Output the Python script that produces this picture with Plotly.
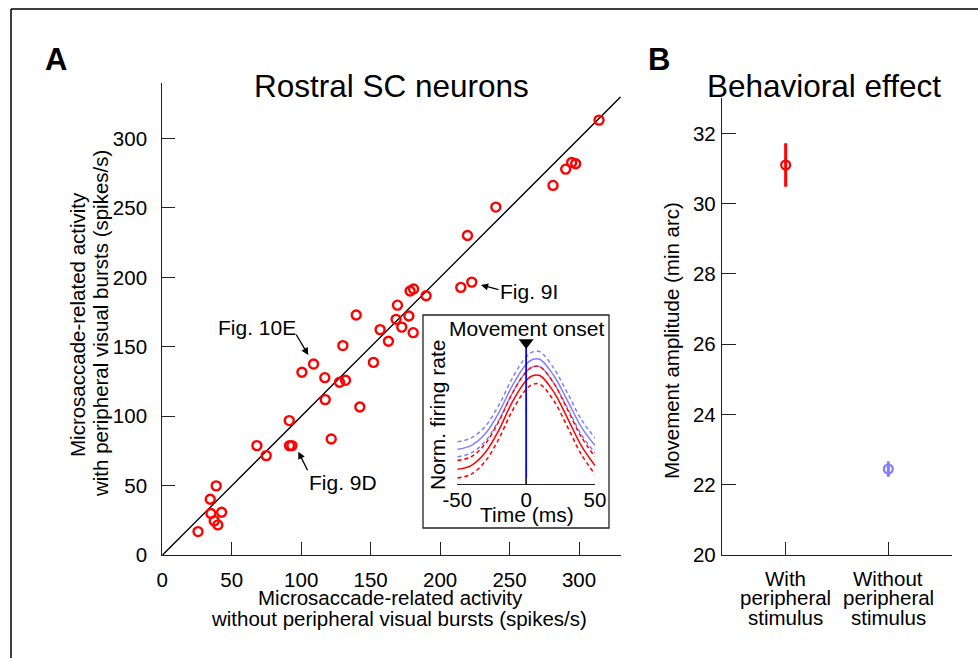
import plotly.graph_objects as go

W, H = 978, 658
FONT = "Liberation Sans, Arial, Helvetica, sans-serif"

# ---------------- Panel A data (spikes/s) ----------------
x_without = [25.7, 34.5, 38.8, 35.0, 37.4, 40.0, 42.7, 68.1, 74.8, 91.4, 91.6, 93.3,
             121.6, 100.5, 108.9, 117.0, 117.3, 127.6, 131.9, 130.0, 139.6, 142.2,
             152.0, 156.8, 162.8, 168.3, 169.3, 172.4, 177.5, 180.6, 178.4, 180.9,
             189.9, 214.9, 222.8, 219.7, 240.1, 281.3, 290.4, 294.7, 297.6, 314.4]
y_with = [17.0, 40.3, 49.9, 30.0, 24.7, 21.8, 30.9, 78.9, 71.7, 96.9, 78.9, 78.9,
          83.7, 131.7, 137.6, 127.8, 112.0, 124.5, 125.9, 150.9, 172.9, 106.7,
          138.8, 162.4, 154.0, 169.8, 180.0, 164.2, 172.2, 160.2, 190.2, 191.6,
          186.8, 192.8, 196.6, 230.2, 250.6, 266.2, 277.9, 282.7, 281.8, 313.2]
unity = [0, 330]
a_ticks = [0, 50, 100, 150, 200, 250, 300]

# ---------------- Inset data (normalized firing rate) ----------------
t_ms = [-50, -40, -30, -20, -10, 0, 5, 10, 20, 30, 40, 50]
red_mean = [0.12, 0.15, 0.25, 0.43, 0.66, 0.83, 0.87, 0.87, 0.74, 0.53, 0.31, 0.15]
red_hi = [0.19, 0.22, 0.32, 0.50, 0.73, 0.90, 0.94, 0.94, 0.81, 0.60, 0.38, 0.22]
red_lo = [0.05, 0.08, 0.18, 0.36, 0.59, 0.76, 0.80, 0.80, 0.67, 0.46, 0.24, 0.08]
blue_mean = [0.28, 0.31, 0.40, 0.57, 0.79, 0.96, 1.00, 1.00, 0.87, 0.67, 0.46, 0.31]
blue_hi = [0.34, 0.37, 0.46, 0.63, 0.85, 1.02, 1.06, 1.06, 0.93, 0.73, 0.52, 0.37]
blue_lo = [0.22, 0.25, 0.34, 0.51, 0.73, 0.90, 0.94, 0.94, 0.81, 0.61, 0.40, 0.25]
inset_ticks = [-50, 0, 50]
inset_ticktext = ["-50", "0", "50"]

# ---------------- Panel B data (min arc) ----------------
b_pos = [1, 2]
b_labels = [["With", "peripheral", "stimulus"], ["Without", "peripheral", "stimulus"]]
b_mean = [31.1, 22.45]
b_err = [0.62, 0.22]
b_ticks = [20, 22, 24, 26, 28, 30, 32]

RED = "#ff0000"
BLUE = "#8080ff"
AX = "#222222"
FS = 20.5


def P(x, y):
    return x / W, 1 - y / H


fig = go.Figure()

# Panel A
fig.add_trace(go.Scatter(x=unity, y=unity, mode="lines",
                         line=dict(color="black", width=1.3),
                         xaxis="x", yaxis="y", hoverinfo="skip"))
fig.add_trace(go.Scatter(x=x_without, y=y_with, mode="markers",
                         marker=dict(symbol="circle-open", size=9, color=RED,
                                     line=dict(color=RED, width=2.4)),
                         xaxis="x", yaxis="y", cliponaxis=False))

# Inset
for ys, col, dash in [(blue_hi, BLUE, "4px,3px"), (blue_lo, BLUE, "4px,3px"),
                      (blue_mean, BLUE, "solid"),
                      (red_hi, RED, "4px,3px"), (red_lo, RED, "4px,3px"),
                      (red_mean, RED, "solid")]:
    fig.add_trace(go.Scatter(x=t_ms, y=ys, mode="lines",
                             line=dict(color=col, width=1.5, dash=dash, shape="spline"),
                             xaxis="x2", yaxis="y2"))
fig.add_trace(go.Scatter(x=[0, 0], y=[0, 1.09], mode="lines",
                         line=dict(color="#0000ff", width=1.8),
                         xaxis="x2", yaxis="y2"))
fig.add_trace(go.Scatter(x=[0], y=[1.135], mode="markers",
                         marker=dict(symbol="triangle-down", size=13, color="black"),
                         xaxis="x2", yaxis="y2", cliponaxis=False))

# Panel B
for i, col in enumerate([RED, BLUE]):
    fig.add_trace(go.Scatter(x=[b_pos[i]], y=[b_mean[i]], mode="markers",
                             marker=dict(symbol="circle-open", size=9, color=col,
                                         line=dict(color=col, width=2.2)),
                             error_y=dict(type="data", array=[b_err[i]], width=0,
                                          thickness=3, color=col),
                             xaxis="x3", yaxis="y3", cliponaxis=False))

tickfont = dict(family=FONT, size=FS, color="black")
common = dict(showline=True, linecolor=AX, linewidth=1.3, ticks="inside",
              tickwidth=1.3, tickcolor=AX, showgrid=False, zeroline=False,
              automargin=False, tickfont=tickfont)

fig.update_layout(
    width=W, height=H, margin=dict(l=0, r=0, t=0, b=0, autoexpand=False),
    paper_bgcolor="white", plot_bgcolor="rgba(0,0,0,0)",
    showlegend=False, font=dict(family=FONT, size=FS, color="black"),
    xaxis=dict(domain=[162.3 / W, 620.7 / W], range=[0, 330], tickvals=a_ticks,
               ticklen=13, ticklabelstandoff=6, anchor="y", **common),
    yaxis=dict(domain=[1 - 555.2 / H, 1 - 82.9 / H], range=[0, 340], tickvals=a_ticks,
               ticklen=13, ticklabelstandoff=10, anchor="x", **common),
    xaxis2=dict(domain=[457.3 / W, 595 / W], range=[-50, 50], tickvals=inset_ticks,
                ticktext=inset_ticktext, ticklen=7, ticklabelstandoff=-3,
                anchor="y2", **common),
    yaxis2=dict(domain=[1 - 484.3 / H, 1 - 334.3 / H], range=[0, 1.2],
                visible=False, anchor="x2", automargin=False),
    xaxis3=dict(domain=[722 / W, 952 / W], range=[0.38, 2.62], tickvals=b_pos,
                showticklabels=False, ticklen=13, anchor="y3", **common),
    yaxis3=dict(domain=[1 - 555.2 / H, 1 - 98.2 / H], range=[20, 33], tickvals=b_ticks,
                ticklen=14, ticklabelstandoff=1, anchor="x3", **common),
)

shapes = []
# figure border (top and left)
shapes.append(dict(type="line", xref="paper", yref="paper",
                   x0=11 / W, x1=1, y0=1 - 9 / H, y1=1 - 9 / H,
                   line=dict(color="black", width=1.5)))
shapes.append(dict(type="line", xref="paper", yref="paper",
                   x0=11 / W, x1=11 / W, y0=0, y1=1 - 9 / H,
                   line=dict(color="black", width=1.5)))
# inset box
shapes.append(dict(type="rect", xref="paper", yref="paper",
                   x0=423 / W, x1=609 / W, y0=1 - 528 / H, y1=1 - 315 / H,
                   line=dict(color="#222222", width=1.3), fillcolor="white",
                   layer="below"))
fig.update_layout(shapes=shapes)

ann = []


def text(x, y, s, size=FS, angle=0, bold=False):
    px, py = P(x, y)
    ann.append(dict(x=px, y=py, xref="paper", yref="paper", text=("<b>%s</b>" % s) if bold else s,
                    showarrow=False, xanchor="center", yanchor="middle",
                    textangle=angle, font=dict(family=FONT, size=size, color="black")))


text(56, 59, "A", size=31, bold=True)
text(659, 59, "B", size=31, bold=True)
text(391, 86, "Rostral SC neurons", size=31.5)
text(824, 86, "Behavioral effect", size=31.5)

# Panel A axis titles
text(390, 597, "Microsaccade-related activity")
text(399, 618, "without peripheral visual bursts (spikes/s)")
text(77, 325, "Microsaccade-related activity", angle=-90)
text(100, 324, "with peripheral visual bursts (spikes/s)", angle=-90)

# Panel B y title
text(672, 341, "Movement amplitude (min arc)", angle=-90)

# Panel B category labels
for pos, lines in zip(b_pos, b_labels):
    for k, line in enumerate(lines):
        ann.append(dict(x=pos, y=1 - (578 + 19.5 * k) / H, xref="x3", yref="paper",
                        text=line, showarrow=False, xanchor="center", yanchor="middle",
                        font=dict(family=FONT, size=FS, color="black")))

# Inset labels
text(526.5, 328, "Movement onset", size=21)
text(526.5, 514, "Time (ms)", size=21)
text(437, 415, "Norm. firing rate", size=21, angle=-90)

# Figure reference labels with arrows
text(257, 327, "Fig. 10E", size=21)
text(343, 482, "Fig. 9D", size=21)
text(529, 291, "Fig. 9I", size=21)

for tip, off in [((105.1, 144.1), (-13, -22)),
                 ((97.9, 74.5), (10, 20)),
                 ((229.4, 194.5), (19, 5))]:
    ann.append(dict(x=tip[0], y=tip[1], xref="x", yref="y", text="",
                    showarrow=True, ax=off[0], ay=off[1], arrowhead=2,
                    arrowsize=1.1, arrowwidth=1.3, arrowcolor="black", standoff=0))

fig.update_layout(annotations=ann)

fig.write_html("out.html")
